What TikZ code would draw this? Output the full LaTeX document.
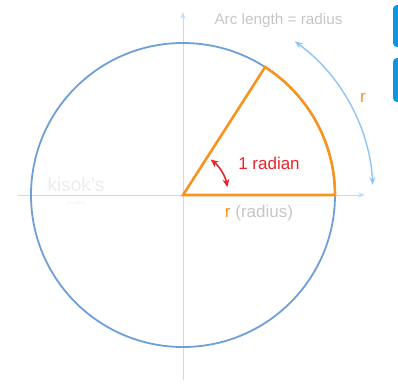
\documentclass[tikz,border=0pt]{standalone}
\usepackage{fontspec}
\setmainfont{Liberation Sans}
\usetikzlibrary{arrows.meta}
\definecolor{circblue}{HTML}{6E9FD6}
\definecolor{axisblue}{HTML}{BFDDFA}
\definecolor{arcblue}{HTML}{8FC5F4}
\definecolor{radorange}{HTML}{F7941E}
\definecolor{radred}{HTML}{E8232B}
\definecolor{lightgray}{HTML}{C6C6C6}
\definecolor{tabblue}{HTML}{0A96E0}
\begin{document}
\begin{tikzpicture}[x=1pt,y=1pt,
	axis/.style={draw=axisblue,line width=0.9pt,-{Stealth[length=7pt,width=5pt]}},
	label/.style={font=\fontsize{17}{17}\selectfont,inner sep=0pt}]
	\useasboundingbox (-183,-189) rectangle (215,195);
	\path (0,0) coordinate (O)
	+(0:152) coordinate (A)
	+(57.3:152) coordinate (B)
	+(54:190) coordinate (P)
	+(3:190) coordinate (Q)
	+(52:45) coordinate (C)
	+(10:45) coordinate (D)
	+(0,-185) coordinate (S)
	+(0,183) coordinate (N)
	+(-165,0) coordinate (W)
	+(182,0) coordinate (E);
	% watermark
	\node[text=pink!25!gray!18,font=\fontsize{19}{19}\selectfont] (mark) at (-107,10) {kisok's};
	\node[text=gray!15,font=\fontsize{4}{4}\selectfont,below=0pt] (mark2) at (-107,-3) {KK MADE};
	% axes
	\draw[axis] (S) -- (N);
	\draw[axis] (W) -- (E);
	\draw[circblue,line width=1.8pt] (O) circle[radius=152];
	% sector
	\draw[radorange,line width=2.6pt,line join=miter] (O) -- (A) arc[start angle=0,end angle=57.3,radius=152] -- cycle;
	\draw[arcblue,line width=1.4pt,{Stealth[length=8pt,width=6pt]}-{Stealth[length=8pt,width=6pt]}] (P) arc[start angle=54,end angle=3,radius=190];
	\draw[radred,line width=1.6pt,{Stealth[length=8pt,width=7pt]}-{Stealth[length=8pt,width=7pt]}] (C) arc[start angle=52,end angle=10,radius=45];
	% labels
	\node[label,text=lightgray,font=\fontsize{15.3}{15}\selectfont] (arclen) at (95.5,174) {Arc length = radius};
	\node[label,text=radorange] (r1) at (180,97) {r};
	\node[label,text=radred] (rad) at (86,32) {1 radian};
	\node[label] (rr) at (76,-18) {\textcolor{radorange}{r} \textcolor{lightgray}{(radius)}};
	% side tabs
	\fill[tabblue,rounded corners=4pt] (210,190) -- (210,148) -- (225,148) -- (225,190) -- cycle;
	\fill[tabblue,rounded corners=4pt] (210,137) -- (210,93) -- (225,93) -- (225,137) -- cycle;
\end{tikzpicture}
\end{document}
